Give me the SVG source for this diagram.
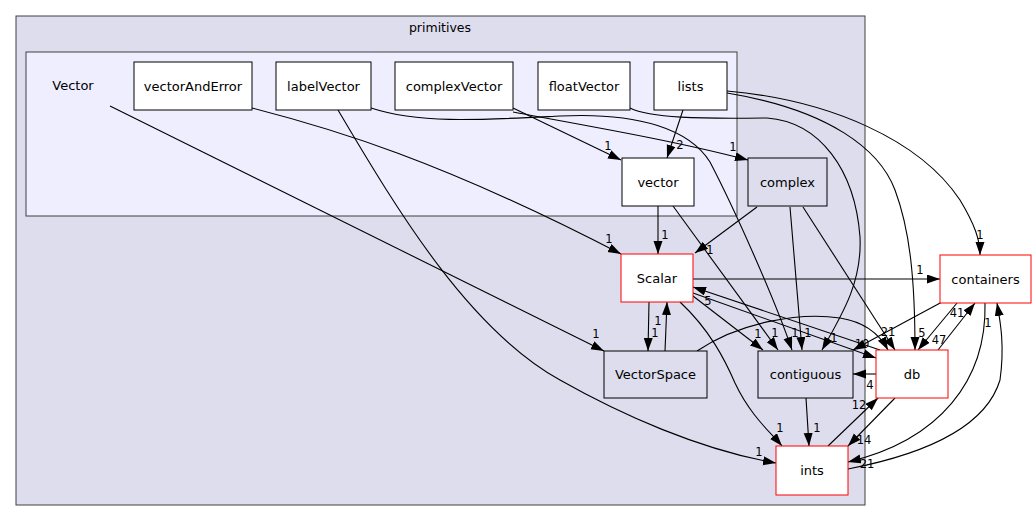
<svg xmlns="http://www.w3.org/2000/svg" width="1036" height="521" viewBox="0 0 1036 521">
<style>
text{font-family:"DejaVu Sans",sans-serif;fill:#000}
.n{font-size:13px;text-anchor:middle}
.l{font-size:11.5px;text-anchor:middle}
.box{fill:#fff;stroke:#000;stroke-width:1}
.gbox{fill:#DDDDEE;stroke:#000;stroke-width:1}
.red{fill:#fff;stroke:#ff0000;stroke-width:1}
.e{fill:none;stroke:#000;stroke-width:1.1;marker-end:url(#ah)}
</style>
<defs>
<marker id="ah" markerUnits="userSpaceOnUse" markerWidth="14" markerHeight="10" refX="13" refY="4.5" orient="auto">
<path d="M0,0 L13,4.5 L0,9 z" fill="#000"/>
</marker>
</defs>
<rect width="1036" height="521" fill="#fff"/>
<g id="cluster-primitives">
<rect x="16" y="16" width="849" height="489" fill="#DDDDEE" stroke="#404040"/>
<text x="440" y="32" class="n" style="font-size:12.5px">primitives</text>
</g>
<g id="cluster-Vector">
<rect x="26" y="52" width="711" height="164" fill="#EEEEFF" stroke="#404040"/>
<text x="73" y="90" class="n">Vector</text>
</g>
<g id="connectors">
<path class="e" d="M110,106 L604,351"/>
<path class="e" d="M252,108 C330,128 440,160 621,254"/>
<path class="e" d="M338,110 C400,215 470,330 560,380 C620,414 700,450 776,463"/>
<path class="e" d="M371,108 C420,124 480,120 560,116 C640,112 690,130 710,162 C735,210 775,300 792,350"/>
<path class="e" d="M513,108 L621,160"/>
<path class="e" d="M513,112 C600,128 680,142 748,160"/>
<path class="e" d="M630,108 C650,118 700,119 767,118 C820,122 855,170 860,237 C862,280 845,310 822,350"/>
<path class="e" d="M683,110 L667,158"/>
<path class="e" d="M727,93 C830,110 880,150 895,190 C910,230 915,280 915,350"/>
<path class="e" d="M727,91 C830,100 920,140 960,200 C975,225 980,240 980,255"/>
<path class="e" d="M658,206 L658,254"/>
<path class="e" d="M673,206 L778,350"/>
<path class="e" d="M757,207 L695,253"/>
<path class="e" d="M790,207 L802,350"/>
<path class="e" d="M803,207 L895,350"/>
<path class="e" d="M693,279 L940,279"/>
<path class="e" d="M649,302 L648,351"/>
<path class="e" d="M665,351 L667,302"/>
<path class="e" d="M693,296 L763,350"/>
<path class="e" d="M693,293 L876,358"/>
<path class="e" d="M880,350 L693,287"/>
<path class="e" d="M680,302 C710,330 725,360 735,383 C750,415 770,432 782,446"/>
<path class="e" d="M697,351 C740,322 800,312 840,318 C865,322 880,335 888,350"/>
<path class="e" d="M806,398 L809,446"/>
<path class="e" d="M942,302 L853,350"/>
<path class="e" d="M876,374 L853,374"/>
<path class="e" d="M938,350 L975,303"/>
<path class="e" d="M957,303 L918,350"/>
<path class="e" d="M985,303 C987,380 940,440 848,462"/>
<path class="e" d="M848,469 C920,455 985,430 1000,380 C1005,345 1000,320 997,303"/>
<path class="e" d="M895,398 L848,446"/>
<path class="e" d="M828,446 L878,398"/>
<g id="edge-labels">
<text class="l" x="596" y="338">1</text>
<text class="l" x="609" y="243">1</text>
<text class="l" x="759" y="456">1</text>
<text class="l" x="795" y="337">1</text>
<text class="l" x="608" y="150">1</text>
<text class="l" x="733" y="151">1</text>
<text class="l" x="834" y="342">1</text>
<text class="l" x="680" y="149">2</text>
<text class="l" x="922" y="337">5</text>
<text class="l" x="980" y="239">1</text>
<text class="l" x="665" y="239">1</text>
<text class="l" x="775" y="337">1</text>
<text class="l" x="710" y="254">1</text>
<text class="l" x="808" y="337">1</text>
<text class="l" x="888" y="336">21</text>
<text class="l" x="920" y="274">1</text>
<text class="l" x="655" y="337">1</text>
<text class="l" x="658" y="325">1</text>
<text class="l" x="758" y="338">1</text>
<text class="l" x="862" y="348">10</text>
<text class="l" x="708" y="305">5</text>
<text class="l" x="780" y="432">1</text>
<text class="l" x="817" y="432">1</text>
<text class="l" x="870" y="389">4</text>
<text class="l" x="957" y="317">41</text>
<text class="l" x="939" y="344">47</text>
<text class="l" x="867" y="468">21</text>
<text class="l" x="988" y="327">1</text>
<text class="l" x="864" y="444">14</text>
<text class="l" x="859" y="409">12</text>
</g>
</g>
<g id="node-vectorAndError"><rect class="box" x="134" y="62" width="118" height="48"/><text class="n" x="193" y="90.5">vectorAndError</text></g>
<g id="node-labelVector"><rect class="box" x="276" y="62" width="95" height="48"/><text class="n" x="323.5" y="90.5">labelVector</text></g>
<g id="node-complexVector"><rect class="box" x="395" y="62" width="118" height="48"/><text class="n" x="454" y="90.5">complexVector</text></g>
<g id="node-floatVector"><rect class="box" x="538" y="62" width="92" height="48"/><text class="n" x="584" y="90.5">floatVector</text></g>
<g id="node-lists"><rect class="box" x="654" y="62" width="73" height="48"/><text class="n" x="690.5" y="90.5">lists</text></g>
<g id="node-vector"><rect class="box" x="622" y="158" width="72" height="48"/><text class="n" x="658" y="186.5">vector</text></g>
<g id="node-complex"><rect class="gbox" x="748" y="158" width="79" height="48"/><text class="n" x="787.5" y="186.5">complex</text></g>
<g id="node-Scalar"><rect class="red" x="621" y="254" width="72" height="48"/><text class="n" x="657" y="282.5">Scalar</text></g>
<g id="node-VectorSpace"><rect class="gbox" x="604" y="351" width="103" height="47"/><text class="n" x="655.5" y="379">VectorSpace</text></g>
<g id="node-contiguous"><rect class="gbox" x="758" y="351" width="95" height="47"/><text class="n" x="805.5" y="379">contiguous</text></g>
<g id="node-db"><rect class="red" x="876" y="350" width="72" height="48"/><text class="n" x="912" y="378.5">db</text></g>
<g id="node-containers"><rect class="red" x="940" y="255" width="91" height="48"/><text class="n" x="985.5" y="283.5">containers</text></g>
<g id="node-ints"><rect class="red" x="776" y="446" width="72" height="49"/><text class="n" x="812" y="475">ints</text></g>
</svg>
